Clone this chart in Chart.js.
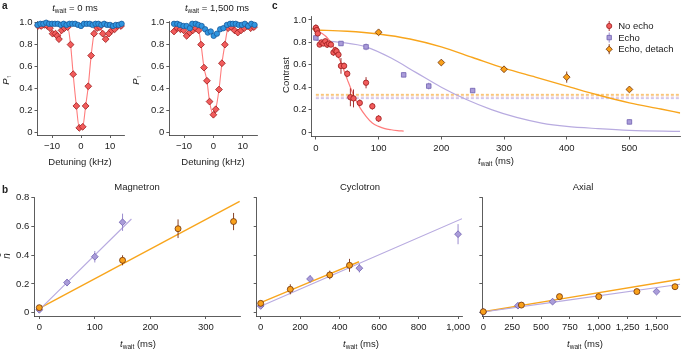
<!DOCTYPE html>
<html>
<head>
<meta charset="utf-8">
<script src="https://cdn.jsdelivr.net/npm/chart.js@4.4.1/dist/chart.umd.min.js"></script>
<style>
  body { margin: 0; background: #fff; }
  #fig { position: relative; width: 685px; height: 353px; overflow: hidden; font-family: "Liberation Sans", Arial, sans-serif; color: #222; }
  #fig canvas { position: absolute; left: 0; top: 0; }
  .t { position: absolute; font-size: 9.5px; white-space: nowrap; transform: translate(-50%, -50%); line-height: 1; }
  .t sub { font-size: 6.5px; vertical-align: -2px; }
  .rot { transform: translate(-50%, -50%) rotate(-90deg); }
  .lab { position: absolute; font-weight: bold; font-size: 10px; line-height: 1; }
</style>
</head>
<body>
<div id="fig">
  <canvas id="a1" width="685" height="353"></canvas>
  <canvas id="a2" width="685" height="353"></canvas>
  <canvas id="c" width="685" height="353"></canvas>
  <canvas id="bMag" width="685" height="353"></canvas>
  <canvas id="bCyc" width="685" height="353"></canvas>
  <canvas id="bAx" width="685" height="353"></canvas>

  <div class="lab" style="left:2px;top:1px">a</div>
  <div class="lab" style="left:2px;top:185px">b</div>
  <div class="lab" style="left:272px;top:1px">c</div>

  <div class="t" style="left:75px;top:9px"><i>t</i><sub>wait</sub> = 0 ms</div>
  <div class="t" style="left:217px;top:9px"><i>t</i><sub>wait</sub> = 1,500 ms</div>
  <div class="t" style="left:80px;top:162px">Detuning (kHz)</div>
  <div class="t" style="left:213px;top:162px">Detuning (kHz)</div>
  <div class="t rot" style="left:7px;top:80px"><i>P</i><sub>↑</sub></div>
  <div class="t rot" style="left:137px;top:80px"><i>P</i><sub>↑</sub></div>
  <div class="t rot" style="left:286px;top:75px">Contrast</div>
  <div class="t" style="left:496px;top:162px"><i>t</i><sub>wait</sub> (ms)</div>

  <div class="t" style="left:137px;top:187px">Magnetron</div>
  <div class="t" style="left:360px;top:187px">Cyclotron</div>
  <div class="t" style="left:583px;top:187px">Axial</div>
  <div class="t" style="left:138px;top:345px"><i>t</i><sub>wait</sub> (ms)</div>
  <div class="t" style="left:361px;top:345px"><i>t</i><sub>wait</sub> (ms)</div>
  <div class="t" style="left:585px;top:345px"><i>t</i><sub>wait</sub> (ms)</div>
  <div class="t rot" style="left:7px;top:256px;font-size:10px"><i>n̄</i></div>
</div>

<script>
// ---- panel a: spectra (detuning in kHz) ----
const a1RedX = [-14.8,-13.7,-12.6,-11.6,-10.7,-9.8,-8.8,-8.2,-7.6,-6.7,-5.7,-4.6,-3.6,-2.7,-1.6,-0.6,0.6,1.6,2.5,3.5,4.5,5.6,6.5,7.5,8.5,9.6,10.6,11.6,12.7,13.8];
const a1RedY = [0.97,0.97,0.98,0.97,0.95,0.90,0.90,0.88,0.85,0.93,0.95,0.96,0.80,0.53,0.24,0.04,0.05,0.24,0.42,0.70,0.90,0.95,0.96,0.90,0.85,0.90,0.93,0.94,0.97,0.97];
const a1BlueX = [-15,-14,-13,-12,-11,-10,-9,-8,-7,-6,-5,-4,-3,-2,-1,0,1,2,3,4,5,6,7,8,9,10,11,12,13,14];
const a1BlueY = [0.98,0.99,0.99,1.00,0.99,0.99,0.99,0.99,0.98,0.99,0.98,0.99,0.99,0.99,0.98,0.97,0.99,0.99,0.99,0.98,0.99,0.99,0.98,0.99,0.98,0.98,0.97,0.98,0.98,0.99];

const a2RedX = [-13.4,-12.3,-11.2,-10.1,-9.1,-8.0,-7.0,-6.0,-5.0,-4.2,-3.2,-2.2,-1.3,0.0,0.8,1.9,2.9,3.9,5.0,6.1,7.2,8.3,9.4,10.5,11.6,12.7,13.8];
const a2RedY = [0.92,0.95,0.94,0.93,0.88,0.91,0.93,0.95,0.93,0.80,0.59,0.47,0.28,0.16,0.21,0.39,0.63,0.80,0.95,0.96,0.93,0.91,0.93,0.95,0.97,0.95,0.96];
const a2BlueX = [-13.4,-12.3,-11.4,-10.2,-9.1,-8.0,-7.2,-6.0,-5.1,-4.0,-2.8,-1.9,-0.9,0.1,1.2,2.3,3.4,4.6,5.7,6.6,7.6,8.6,9.7,10.7,11.8,12.9,14.0];
const a2BlueY = [0.99,0.99,0.98,0.97,0.97,0.95,0.99,0.99,0.98,0.97,0.94,0.91,0.92,0.88,0.90,0.94,0.95,0.98,0.99,0.99,0.99,0.98,0.98,0.99,0.97,0.99,0.98];

const aRedErr = 0.022;
const aBlueErr = 0.01;
const aTicksX = [-10, 0, 10];
const aTicksY = [0, 0.2, 0.4, 0.6, 0.8, 1.0];

// ---- panel c: contrast vs t_wait (ms) ----
const noEchoX = [0,1.5,3,6,9,12,15,18,21,24,28,31,33,36,40,45,50,55,60,70,80,90,100];
const noEchoY = [0.93,0.91,0.88,0.78,0.80,0.79,0.81,0.78,0.79,0.78,0.71,0.73,0.72,0.69,0.59,0.59,0.52,0.31,0.30,0.26,0.44,0.23,0.12];
const noEchoErr = [0.03,0.02,0.02,0.02,0.02,0.02,0.02,0.03,0.02,0.02,0.03,0.03,0.03,0.03,0.07,0.03,0.03,0.08,0.08,0.03,0.05,0.03,0.03];
const echoX = [0,40,80,140,180,250,500];
const echoY = [0.84,0.79,0.76,0.51,0.41,0.37,0.09];
const echoErr = [0.02,0.02,0.03,0.02,0.03,0.02,0.02];
const detachX = [0,100,200,300,400,500];
const detachY = [0.92,0.89,0.62,0.56,0.49,0.38];
const detachErr = [0.03,0.02,0.02,0.02,0.05,0.02];

const noEchoFitX = [0,10,20,30,40,50,60,70,80,90,100,110,120,130,140];
const noEchoFitY = [0.90,0.88,0.83,0.74,0.62,0.47,0.33,0.22,0.14,0.08,0.05,0.03,0.02,0.013,0.008];
const echoFitX = [0,40,80,120,160,200,240,280,320,360,400,450,500,581];
const echoFitY = [0.82,0.80,0.76,0.66,0.53,0.40,0.29,0.20,0.13,0.08,0.05,0.03,0.015,0.005];
const detachFitX = [0,50,100,150,200,250,300,350,400,450,500,550,581];
const detachFitY = [0.91,0.90,0.875,0.83,0.76,0.665,0.57,0.49,0.41,0.33,0.26,0.205,0.17];

const floorLevels = [0.336, 0.324, 0.310, 0.298];
const floorSpan = [0, 581];
const cLegendLabels = ['No echo', 'Echo', 'Echo, detach'];
const cTicksX = [0, 100, 200, 300, 400, 500];
const cTicksY = [0, 0.2, 0.4, 0.6, 0.8, 1.0];

// ---- panel b: mean phonon number vs t_wait (ms) ----
const magEchoX = [0,50,100,150];
const magEchoY = [0.02,0.21,0.39,0.63];
const magEchoErr = [0.015,0.025,0.04,0.06];
const magDetachX = [0,150,250,350];
const magDetachY = [0.035,0.365,0.585,0.635];
const magDetachErr = [0.015,0.035,0.065,0.06];
const magEchoFitX = [0,166], magEchoFitY = [0.02,0.653];
const magDetachFitX = [0,361], magDetachFitY = [0.03,0.775];

const cycEchoX = [0,250,500,1000];
const cycEchoY = [0.047,0.235,0.31,0.547];
const cycEchoErr = [0.015,0.025,0.03,0.07];
const cycDetachX = [0,150,350,450];
const cycDetachY = [0.065,0.163,0.263,0.33];
const cycDetachErr = [0.015,0.035,0.03,0.045];
const cycEchoFitX = [0,1020], cycEchoFitY = [0.045,0.655];
const cycDetachFitX = [0,498], cycDetachFitY = [0.07,0.355];

const axEchoX = [0,300,600,1500];
const axEchoY = [0.005,0.049,0.077,0.147];
const axEchoErr = [0.01,0.01,0.015,0.015];
const axDetachX = [0,330,660,1000,1330,1660];
const axDetachY = [0.007,0.053,0.112,0.112,0.147,0.181];
const axDetachErr = [0.01,0.012,0.015,0.015,0.015,0.02];
const axEchoFitX = [0,1705], axEchoFitY = [0.005,0.198];
const axDetachFitX = [0,1705], axDetachFitY = [0.007,0.233];

const bTicksY = [0, 0.2, 0.4, 0.6, 0.8];
const magTicksX = [0, 100, 200, 300];
const cycTicksX = [0, 200, 400, 600, 800, 1000];
const axTicksX = [0, 250, 500, 750, 1000, 1250, 1500];

// colours
const RED = { fill: '#f25c5c', edge: '#9b1c1c', line: '#ff7c7c' };
const BLUE = { fill: '#2f95e0', edge: '#1a5a9a', line: '#6ab0ea' };
const PURPLE = { fill: '#aa9cd9', edge: '#6f5fb0', line: '#b8abe0', err: '#8f7fc8' };
const ORANGE = { fill: '#f9a11b', edge: '#6e3008', line: '#f8a51c', err: '#7a2e10' };

Chart.defaults.font.family = '"Liberation Sans", Arial, sans-serif';
Chart.defaults.font.size = 9.5;
Chart.defaults.color = '#222';

const W = 685, H = 353, YW = 30, XH = 20;

const pts = (xs, ys) => xs.map((x, i) => ({ x: x, y: ys[i] }));

// error bars drawn just before each dataset's markers
const errorBars = {
    id: 'errorBars',
    beforeDatasetDraw(chart, args) {
        const ds = chart.data.datasets[args.index];
        if (!ds.errors) return;
        const ctx = chart.ctx, sx = chart.scales.x, sy = chart.scales.y;
        ctx.save();
        ctx.strokeStyle = ds.errorColor;
        ctx.lineWidth = 0.9;
        ds.data.forEach((p, i) => {
            const e = Array.isArray(ds.errors) ? ds.errors[i] : ds.errors;
            const px = sx.getPixelForValue(p.x);
            ctx.beginPath();
            ctx.moveTo(px, sy.getPixelForValue(p.y - e));
            ctx.lineTo(px, sy.getPixelForValue(p.y + e));
            ctx.stroke();
        });
        ctx.restore();
    }
};

function drawMarker(ctx, style, x, y, r, fill, edge) {
    ctx.beginPath();
    if (style === 'circle') {
        ctx.arc(x, y, r, 0, Math.PI * 2);
    } else if (style === 'rect') {
        ctx.rect(x - r * 0.85, y - r * 0.85, r * 1.7, r * 1.7);
    } else {
        ctx.moveTo(x, y - r * 1.2); ctx.lineTo(x + r * 1.2, y);
        ctx.lineTo(x, y + r * 1.2); ctx.lineTo(x - r * 1.2, y); ctx.closePath();
    }
    ctx.fillStyle = fill; ctx.fill();
    ctx.strokeStyle = edge; ctx.lineWidth = 0.8; ctx.stroke();
}

// legend of panel c, drawn inside the plot area
const cLegend = {
    id: 'cLegend',
    afterDraw(chart) {
        const ctx = chart.ctx;
        const styles = [['circle', RED, RED.edge], ['rect', PURPLE, PURPLE.err], ['rectRot', ORANGE, ORANGE.err]];
        const x0 = chart.chartArea.right - 71, y0 = chart.chartArea.top + 9.5;
        ctx.save();
        cLegendLabels.forEach((label, i) => {
            const y = y0 + i * 11.6;
            const [style, col, errCol] = styles[i];
            ctx.strokeStyle = errCol; ctx.lineWidth = 0.9;
            ctx.beginPath(); ctx.moveTo(x0, y - 5); ctx.lineTo(x0, y + 5); ctx.stroke();
            drawMarker(ctx, style, x0, y, 2.6, col.fill, col.edge);
            ctx.fillStyle = '#222';
            ctx.font = '9.5px "Liberation Sans", Arial, sans-serif';
            ctx.textBaseline = 'middle';
            ctx.fillText(label, x0 + 9, y + 0.5);
        });
        ctx.restore();
    }
};

function axis(horizontal, min, max, ticks, fmt, showLabels) {
    return {
        type: 'linear', min: min, max: max,
        afterBuildTicks: s => { s.ticks = ticks.map(v => ({ value: v })); },
        afterFit: s => {
            if (horizontal) { s.height = XH; s.paddingLeft = 0; s.paddingRight = 0; }
            else { s.width = YW; s.paddingTop = 0; s.paddingBottom = 0; }
        },
        ticks: { display: showLabels, callback: fmt, padding: horizontal ? 3 : 2, color: '#222', maxRotation: 0, autoSkip: false },
        grid: { display: true, drawOnChartArea: false, drawTicks: true, tickLength: 3, color: '#333', lineWidth: 0.8 },
        border: { display: true, color: '#333', width: 0.8 }
    };
}

const fmtSigned = v => (v < 0 ? '\u2212' + Math.abs(v) : String(v));
const fmtFrac = v => (v === 0 ? '0' : v.toFixed(1));
const fmtThousands = v => v.toLocaleString('en-US');

function markers(xs, ys, errs, style, col, errColor, r) {
    return {
        data: pts(xs, ys), errors: errs, errorColor: errColor,
        showLine: false, pointStyle: style, pointRadius: r,
        pointBackgroundColor: col.fill, pointBorderColor: col.edge, pointBorderWidth: 0.8,
        clip: false, order: 1
    };
}

function curve(xs, ys, color, width, dash) {
    return {
        data: pts(xs, ys), showLine: true, pointRadius: 0,
        borderColor: color, borderWidth: width, borderDash: dash || [],
        tension: dash ? 0 : 0.4, cubicInterpolationMode: dash ? 'default' : 'monotone',
        fill: false, order: 2
    };
}

function panel(id, box, xAxis, yAxis, datasets, extra) {
    const [L, T, R, B] = box;
    return new Chart(document.getElementById(id), {
        type: 'scatter',
        data: { datasets: datasets },
        options: {
            responsive: false, animation: false, devicePixelRatio: 1, events: [],
            layout: { padding: { left: L - YW, top: T, right: W - R, bottom: H - B - XH } },
            scales: { x: xAxis, y: yAxis },
            plugins: { legend: { display: false }, tooltip: { enabled: false } }
        },
        plugins: [errorBars].concat(extra || [])
    });
}

// panel a, t_wait = 0 ms
panel('a1', [37.5, 21.4, 124.5, 135],
    axis(true, -15, 15, aTicksX, fmtSigned, true),
    axis(false, -0.025, 1.012, aTicksY, fmtFrac, true),
    [
        markers(a1BlueX, a1BlueY, aBlueErr, 'circle', BLUE, BLUE.edge, 2.7),
        markers(a1RedX, a1RedY, aRedErr, 'rectRot', RED, RED.edge, 3.4),
        curve(a1RedX, a1RedY, RED.line, 1.1),
        curve(a1BlueX, a1BlueY, BLUE.line, 0.8)
    ]);

// panel a, t_wait = 1,500 ms
panel('a2', [169.3, 21.4, 257.5, 135],
    axis(true, -15, 15, aTicksX, fmtSigned, true),
    axis(false, -0.025, 1.012, aTicksY, fmtFrac, true),
    [
        markers(a2BlueX, a2BlueY, aBlueErr, 'circle', BLUE, BLUE.edge, 2.7),
        markers(a2RedX, a2RedY, aRedErr, 'rectRot', RED, RED.edge, 3.4),
        curve(a2RedX, a2RedY, RED.line, 1.1),
        curve(a2BlueX, a2BlueY, BLUE.line, 0.8)
    ]);

// panel c
const floorColors = ['#f7a21e', '#f2a850', '#c9a3d6', '#b1a3e0'];
panel('c', [311.5, 16.5, 684, 136.5],
    axis(true, -7, 581, cTicksX, String, true),
    axis(false, -0.04, 1.031, cTicksY, fmtFrac, true),
    [
        markers(noEchoX, noEchoY, noEchoErr, 'circle', RED, RED.edge, 2.7),
        markers(echoX, echoY, echoErr, 'rect', PURPLE, PURPLE.err, 3.2),
        markers(detachX, detachY, detachErr, 'rectRot', ORANGE, ORANGE.err, 3.4),
        curve(noEchoFitX, noEchoFitY, RED.line, 1.2),
        curve(echoFitX, echoFitY, PURPLE.line, 1.2),
        curve(detachFitX, detachFitY, ORANGE.line, 1.4)
    ].concat(floorLevels.map((lv, i) => curve(floorSpan, [lv, lv], floorColors[i], 0.7, [3, 2]))),
    [cLegend]);

// panel b
panel('bMag', [34.3, 197, 240, 316],
    axis(true, -9, 361.6, magTicksX, String, true),
    axis(false, -0.023, 0.806, bTicksY, fmtFrac, true),
    [
        markers(magDetachX, magDetachY, magDetachErr, 'circle', ORANGE, ORANGE.err, 3),
        markers(magEchoX, magEchoY, magEchoErr, 'rectRot', PURPLE, PURPLE.err, 3.4),
        curve(magEchoFitX, magEchoFitY, PURPLE.line, 1.2),
        curve(magDetachFitX, magDetachFitY, ORANGE.line, 1.4)
    ]);

panel('bCyc', [256.7, 197, 462, 316],
    axis(true, -20.3, 1020, cycTicksX, fmtThousands, true),
    axis(false, -0.023, 0.806, bTicksY, fmtFrac, false),
    [
        markers(cycDetachX, cycDetachY, cycDetachErr, 'circle', ORANGE, ORANGE.err, 3),
        markers(cycEchoX, cycEchoY, cycEchoErr, 'rectRot', PURPLE, PURPLE.err, 3.4),
        curve(cycEchoFitX, cycEchoFitY, PURPLE.line, 1.2),
        curve(cycDetachFitX, cycDetachFitY, ORANGE.line, 1.4)
    ]);

panel('bAx', [482.3, 197, 685, 316],
    axis(true, -8.5, 1705, axTicksX, fmtThousands, true),
    axis(false, -0.023, 0.806, bTicksY, fmtFrac, false),
    [
        markers(axDetachX, axDetachY, axDetachErr, 'circle', ORANGE, ORANGE.err, 3),
        markers(axEchoX, axEchoY, axEchoErr, 'rectRot', PURPLE, PURPLE.err, 3.4),
        curve(axEchoFitX, axEchoFitY, PURPLE.line, 1.2),
        curve(axDetachFitX, axDetachFitY, ORANGE.line, 1.4)
    ]);
</script>
</body>
</html>
